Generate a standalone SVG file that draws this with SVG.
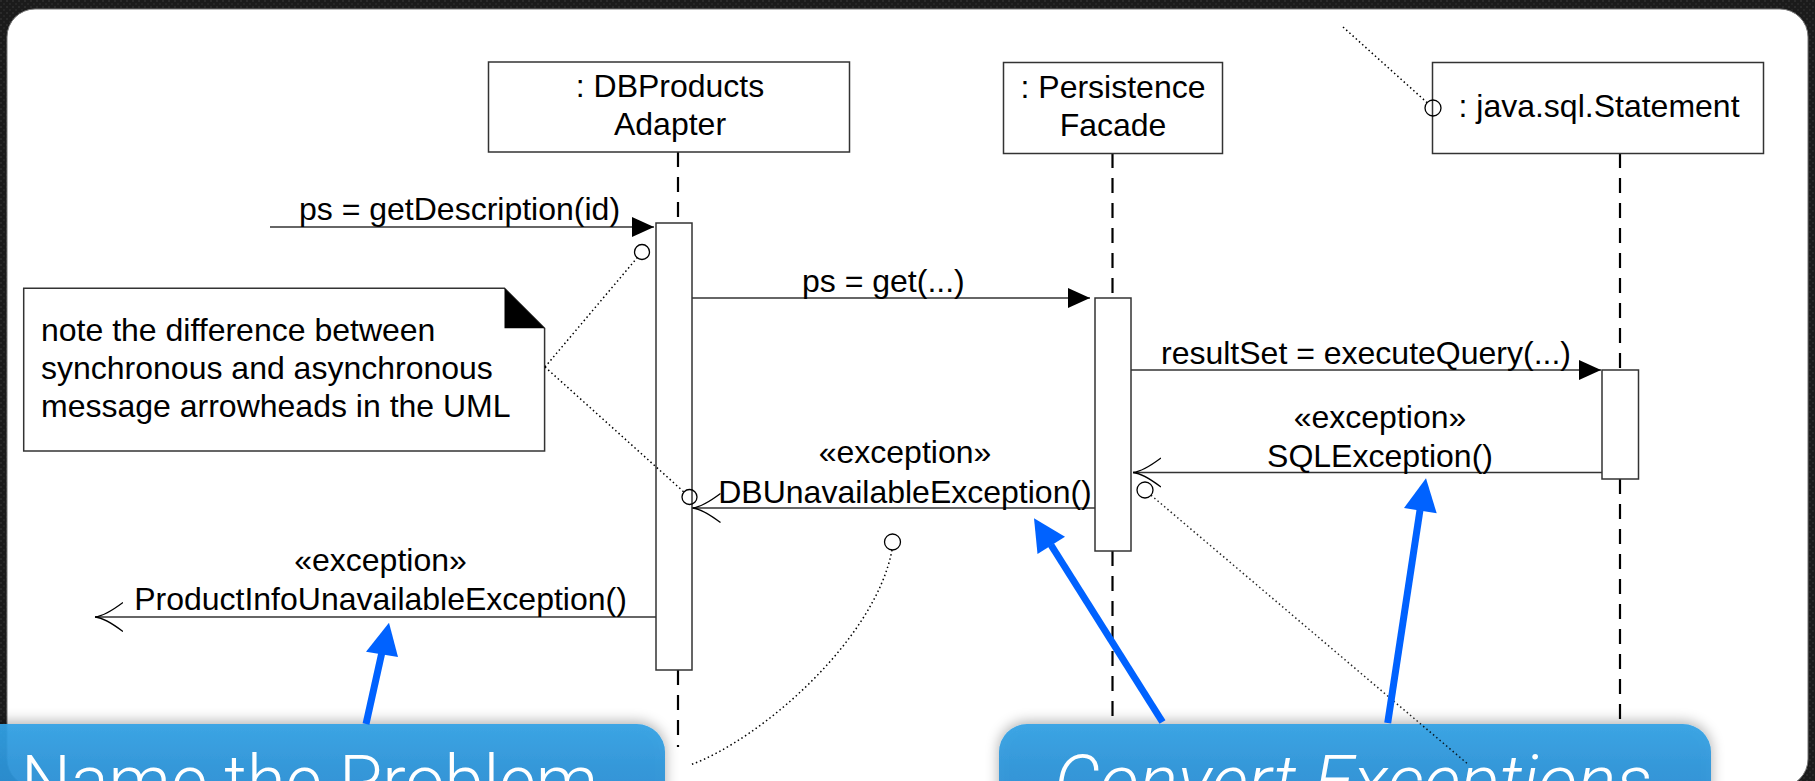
<svg xmlns="http://www.w3.org/2000/svg" width="1815" height="781" viewBox="0 0 1815 781">
  <style>
    .lbl { font-family: "Liberation Sans", Arial, Helvetica, sans-serif; font-size: 32px; fill: #000; }
    .mid { text-anchor: middle; }
    .box { fill: #fff; stroke: #333; stroke-width: 1.5; }
    .life { stroke: #000; stroke-width: 2.2; stroke-dasharray: 15 10; fill: none; }
    .msg { stroke: #333; stroke-width: 1.5; fill: none; }
    .dot { stroke: #000; stroke-width: 1.5; stroke-dasharray: 1.5 2.8; fill: none; }
    .anchor { fill: none; stroke: #000; stroke-width: 1.3; }
    .blue { stroke: #0062ff; stroke-width: 7; fill: none; }
    .bluehead { fill: #0062ff; }
    .call { fill: url(#callGrad); fill-opacity: 0.93; filter: url(#shadow); }
    .calltxt { font-family: Roboto, "Open Sans", "Liberation Sans", sans-serif; font-weight: 300; font-size: 70px; fill: #fff; }
  </style>
  <defs>
    <pattern id="noise" width="6" height="6" patternUnits="userSpaceOnUse">
      <rect width="6" height="6" fill="#1b1b1b"/>
      <rect x="0" y="0" width="2" height="2" fill="#2a2a2a"/>
      <rect x="3" y="3" width="2" height="2" fill="#262626"/>
    </pattern>
    <linearGradient id="callGrad" x1="0" y1="0" x2="0" y2="1">
      <stop offset="0" stop-color="#33a2e5"/>
      <stop offset="0.4" stop-color="#2c94d9"/>
      <stop offset="1" stop-color="#288cd3"/>
    </linearGradient>
    <filter id="shadow" x="-10%" y="-40%" width="120%" height="180%">
      <feGaussianBlur in="SourceAlpha" stdDeviation="7"/>
      <feOffset dx="0" dy="-2" result="b"/>
      <feComponentTransfer><feFuncA type="linear" slope="0.35"/></feComponentTransfer>
      <feMerge><feMergeNode/><feMergeNode in="SourceGraphic"/></feMerge>
    </filter>
    <marker id="sync" markerUnits="userSpaceOnUse" markerWidth="24" markerHeight="22" refX="22" refY="10" orient="auto">
      <path d="M0,0 L22,10 L0,20 Z" fill="#000"/>
    </marker>
    <marker id="open" markerUnits="userSpaceOnUse" markerWidth="32" markerHeight="32" refX="28" refY="15" orient="auto">
      <path d="M0,0.5 Q18,14 28,15 M0,29.5 Q18,16 28,15" fill="none" stroke="#000" stroke-width="1.3"/>
    </marker>
  </defs>

  <!-- background -->
  <rect x="0" y="0" width="1815" height="781" fill="url(#noise)"/>
  <rect x="7" y="9" width="1801" height="778" rx="28" ry="28" fill="#fff" stroke="#777" stroke-width="1"/>

  <!-- lifelines -->
  <g id="lifelines">
    <line class="life" x1="678" y1="152" x2="678" y2="223"/>
    <line class="life" x1="678" y1="670" x2="678" y2="747"/>
    <line class="life" x1="1112.5" y1="153" x2="1112.5" y2="298"/>
    <line class="life" x1="1112.5" y1="551" x2="1112.5" y2="724"/>
    <line class="life" x1="1620" y1="153" x2="1620" y2="370"/>
    <line class="life" x1="1620" y1="479" x2="1620" y2="724"/>
  </g>

  <g id="dbproducts-adapter">
    <rect class="box" x="488.5" y="62" width="361" height="90"/>
    <text class="lbl mid" x="670" y="97">: DBProducts</text>
    <text class="lbl mid" x="670" y="134.5">Adapter</text>
    <rect class="box" x="656" y="223" width="36" height="447"/>
  </g>

  <g id="persistence-facade">
    <rect class="box" x="1003.5" y="62.5" width="219" height="91"/>
    <text class="lbl mid" x="1113" y="98">: Persistence</text>
    <text class="lbl mid" x="1113" y="135.5">Facade</text>
    <rect class="box" x="1095" y="298" width="36" height="253"/>
  </g>

  <g id="java-sql-statement">
    <rect class="box" x="1432.5" y="62.5" width="331" height="91"/>
    <text class="lbl mid" x="1599" y="117">: java.sql.Statement</text>
    <rect class="box" x="1602" y="370" width="36.5" height="109"/>
  </g>

  <g id="note">
    <path class="box" d="M23.7,288.3 H504.5 L544.6,328.3 V451 H23.7 Z"/>
    <path d="M504.5,288.3 L544.6,328.3 H504.5 Z" fill="#000"/>
    <text class="lbl" x="41" y="341">note the difference between</text>
    <text class="lbl" x="41" y="379">synchronous and asynchronous</text>
    <text class="lbl" x="41" y="417">message arrowheads in the UML</text>
  </g>

  <g id="connectors">
    <line class="msg" x1="270" y1="227" x2="654" y2="227" marker-end="url(#sync)"/>
    <text class="lbl" x="299" y="220">ps = getDescription(id)</text>

    <line class="msg" x1="692" y1="298" x2="1090" y2="298" marker-end="url(#sync)"/>
    <text class="lbl" x="802" y="292">ps = get(...)</text>

    <line class="msg" x1="1131" y1="370" x2="1601" y2="370" marker-end="url(#sync)"/>
    <text class="lbl" x="1161" y="364">resultSet = executeQuery(...)</text>

    <line class="msg" x1="1602" y1="472.5" x2="1133" y2="472.5" marker-end="url(#open)"/>
    <text class="lbl mid" x="1380" y="428">«exception»</text>
    <text class="lbl mid" x="1380" y="467">SQLException()</text>

    <line class="msg" x1="1095" y1="508" x2="692.5" y2="508" marker-end="url(#open)"/>
    <text class="lbl mid" x="905" y="463">«exception»</text>
    <text class="lbl mid" x="905" y="503">DBUnavailableException()</text>

    <line class="msg" x1="656" y1="617" x2="95" y2="617" marker-end="url(#open)"/>
    <text class="lbl mid" x="380.5" y="571">«exception»</text>
    <text class="lbl mid" x="380.5" y="610">ProductInfoUnavailableException()</text>

    <line class="dot" x1="545" y1="367" x2="637.2" y2="257.7"/>
    <circle class="anchor" cx="642" cy="252" r="7.5"/>
    <line class="dot" x1="545" y1="367" x2="683.9" y2="492"/>
    <circle class="anchor" cx="689.5" cy="497" r="7.5"/>
    <line class="dot" x1="1343" y1="27" x2="1427" y2="102.6"/>
    <circle class="anchor" cx="1433" cy="108" r="8"/>
    <circle class="anchor" cx="1145" cy="490" r="8"/>
    <circle class="anchor" cx="892.5" cy="542" r="8"/>
    <path class="dot" d="M892,550 C875,640 760,740 690,765"/>
  </g>

  <g id="callout-name">
    <rect class="call" x="-40" y="724" width="705" height="110" rx="28" ry="28"/>
    <text class="calltxt" x="21" y="805" textLength="577" lengthAdjust="spacingAndGlyphs">Name the Problem</text>
  </g>

  <g id="callout-convert">
    <rect class="call" x="999" y="724" width="712" height="110" rx="28" ry="28"/>
    <text class="calltxt" x="1054" y="805" font-style="italic" textLength="598" lengthAdjust="spacingAndGlyphs">Convert Exceptions</text>
  </g>

  <line class="dot" x1="1151" y1="495.2" x2="1469" y2="765" opacity="0.85"/>

  <g id="pointers">
    <line class="blue" x1="366" y1="724" x2="382" y2="652"/>
    <polygon class="bluehead" points="389,622.7 366,651.7 398,657"/>
    <line class="blue" x1="1162.5" y1="722" x2="1051" y2="545"/>
    <polygon class="bluehead" points="1034,518.3 1037.5,554 1065,536.7"/>
    <line class="blue" x1="1387.7" y1="723" x2="1420" y2="510"/>
    <polygon class="bluehead" points="1426,478.3 1404,508 1436.7,513.3"/>
  </g>
</svg>
